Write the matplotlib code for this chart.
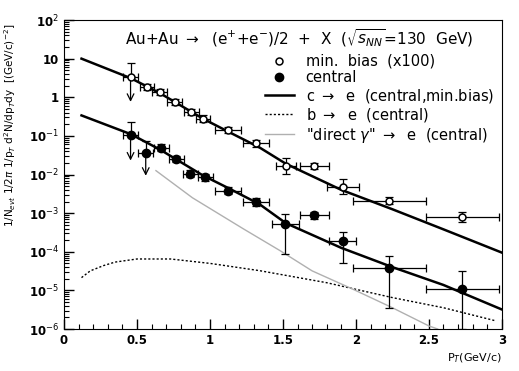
import numpy as np
import matplotlib
matplotlib.use("Agg")
import matplotlib.pyplot as plt
from matplotlib.lines import Line2D
from matplotlib.ticker import FixedLocator, FixedFormatter, LogLocator, MultipleLocator, NullFormatter

plt.rcParams.update({"font.family": "DejaVu Sans", "font.size": 9})

# min. bias (x100), open symbols
mb_x = [0.456, 0.569, 0.656, 0.759, 0.873, 0.952, 1.123, 1.317, 1.522, 1.716, 1.909, 2.228, 2.73]
mb_y = [3.4, 1.86, 1.38, 0.76, 0.42, 0.28, 0.145, 0.065, 0.0162, 0.0162, 0.0047, 0.0021, 0.00081]
mb_lo = [0.76, 1.55, 1.15, 0.63, 0.35, 0.235, 0.12, 0.053, 0.0102, 0.0135, 0.0032, 0.0017, 0.00060]
mb_hi = [7.8, 2.25, 1.65, 0.92, 0.50, 0.34, 0.175, 0.080, 0.026, 0.0195, 0.0078, 0.0026, 0.00110]
mb_xerr = [0.05, 0.05, 0.05, 0.05, 0.05, 0.05, 0.09, 0.09, 0.07, 0.10, 0.11, 0.25, 0.25]
mb_arrow = [True] + [False] * 12

# central, filled symbols
c_x = [0.456, 0.56, 0.668, 0.77, 0.866, 0.968, 1.123, 1.317, 1.517, 1.716, 1.909, 2.228, 2.73]
c_y = [0.107, 0.0355, 0.049, 0.0257, 0.0105, 0.0085, 0.0038, 0.0019, 0.00052, 0.00087, 0.000195, 3.9e-5, 1.07e-5]
c_lo = [0.023, 0.0093, 0.040, 0.021, 0.0085, 0.0069, 0.0031, 0.0015, 8.7e-5, 0.00071, 5.2e-5, 3.5e-6, 1.0e-6]
c_hi = [0.23, 0.076, 0.060, 0.031, 0.013, 0.0104, 0.0047, 0.0024, 0.00095, 0.00106, 0.00032, 7.9e-5, 3.2e-5]
c_xerr = [0.05, 0.05, 0.05, 0.05, 0.05, 0.05, 0.09, 0.09, 0.09, 0.10, 0.09, 0.25, 0.25]
c_arrow = [True, True] + [False] * 11

# c -> e curves
ce_x = [0.12, 0.46, 0.66, 0.95, 1.13, 1.34, 1.52, 1.9, 2.25, 2.6, 3.0]
ce_mb = [10.0, 3.09, 1.26, 0.282, 0.126, 0.050, 0.019, 0.0040, 0.00126, 3.8e-4, 9.5e-5]
ce_c = [0.339, 0.11, 0.0437, 0.00955, 0.00437, 0.0017, 5.5e-4, 1.26e-4, 4.0e-5, 1.38e-5, 3.2e-6]

# b -> e (central)
be_x = [0.12, 0.18, 0.27, 0.35, 0.5, 0.73, 1.0, 1.34, 1.8, 2.25, 2.6, 2.96]
be_y = [2.14e-5, 3.2e-5, 4.37e-5, 5.4e-5, 6.5e-5, 6.5e-5, 5.0e-5, 3.24e-5, 1.58e-5, 6.5e-6, 3.55e-6, 1.62e-6]

# "direct gamma" -> e (central)
dg_x = [0.63, 0.88, 1.23, 1.48, 1.7, 1.98, 2.25, 2.5, 2.56]
dg_y = [0.0126, 0.0025, 3.9e-4, 1.07e-4, 3.2e-5, 1.07e-5, 3.55e-6, 1.2e-6, 1.0e-6]

ytick_vals = [1e-6, 1e-5, 1e-4, 1e-3, 1e-2, 1e-1, 1, 10, 100]
ytick_labels = ["10$^{-6}$", "10$^{-5}$", "10$^{-4}$", "10$^{-3}$", "10$^{-2}$", "10$^{-1}$", "1", "10", "10$^{2}$"]

fig = plt.figure(figsize=(5.19, 3.71), dpi=100)
ax = fig.add_axes([0.1233, 0.1132, 0.8437, 0.8328])

ax.plot(ce_x, ce_mb, "-", color="black", lw=1.8)
ax.plot(ce_x, ce_c, "-", color="black", lw=1.8)
ax.plot(be_x, be_y, color="black", lw=1.0, ls=(0, (1.5, 1.5)))
ax.plot(dg_x, dg_y, "-", color="#b0b0b0", lw=1.0)


def draw_points(x, y, lo, hi, xerr, arrow, filled):
    x = np.array(x); y = np.array(y); lo = np.array(lo); hi = np.array(hi)
    arrow = np.array(arrow)
    ylow = np.where(arrow, 0.0, y - lo)
    ax.errorbar(x, y, xerr=xerr, yerr=[ylow, hi - y], fmt="none", ecolor="black",
                elinewidth=0.9, capsize=3, capthick=0.9)
    for xi, yi, li, a in zip(x, y, lo, arrow):
        if a:
            ax.annotate("", xy=(xi, li), xytext=(xi, yi),
                        arrowprops=dict(arrowstyle="->", color="black", lw=0.9,
                                        mutation_scale=12, shrinkA=0, shrinkB=0))
    if filled:
        ax.plot(x, y, "o", ms=6, color="black", zorder=5)
    else:
        ax.plot(x, y, "o", ms=5, mfc="white", mec="black", mew=1.1, zorder=5)


draw_points(mb_x, mb_y, mb_lo, mb_hi, mb_xerr, mb_arrow, filled=False)
draw_points(c_x, c_y, c_lo, c_hi, c_xerr, c_arrow, filled=True)

ax.set_yscale("log")
ax.set_xlim(0, 3)
ax.set_ylim(1e-6, 100)
ax.yaxis.set_major_locator(FixedLocator(ytick_vals))
ax.yaxis.set_major_formatter(FixedFormatter(ytick_labels))
ax.yaxis.set_minor_locator(LogLocator(base=10, subs=np.arange(2, 10), numticks=20))
ax.yaxis.set_minor_formatter(NullFormatter())
ax.xaxis.set_major_locator(MultipleLocator(0.5))
ax.xaxis.set_minor_locator(MultipleLocator(0.1))
ax.xaxis.set_major_formatter(plt.FuncFormatter(lambda v, p: f"{v:g}"))
ax.tick_params(which="both", direction="in", top=False, right=False, labelsize=8.5)
ax.tick_params(which="major", length=7, width=1.0)
ax.tick_params(which="minor", length=3.5, width=0.8)
for lbl in ax.get_xticklabels() + ax.get_yticklabels():
    lbl.set_fontweight("bold")

ax.set_xlabel("P$_T$(GeV/c)", fontsize=8, loc="right", labelpad=3)
ax.set_ylabel(r"1/N$_{evt}$ 1/2$\pi$ 1/p$_T$ d$^2$N/dp$_T$dy  [(GeV/c)$^{-2}$]", fontsize=7.5)
ax.yaxis.set_label_coords(-0.105, 0.66)

ax.text(0.14, 0.94, r"Au+Au $\rightarrow$  (e$^{+}$+e$^{-}$)/2  +  X  ($\sqrt{s_{NN}}$=130  GeV)",
        transform=ax.transAxes, fontsize=11, va="center", ha="left")

handles = [
    Line2D([], [], ls="none", marker="o", ms=5, mfc="white", mec="black", mew=1.1),
    Line2D([], [], ls="none", marker="o", ms=6, color="black"),
    Line2D([], [], color="black", lw=1.8),
    Line2D([], [], color="black", lw=1.0, ls=(0, (1.5, 1.5))),
    Line2D([], [], color="#b0b0b0", lw=1.0),
]
labels = ["min.  bias  (x100)", "central", r"c $\rightarrow$  e  (central,min.bias)",
          r"b $\rightarrow$  e  (central)", r'"direct $\gamma$" $\rightarrow$  e  (central)']
ax.legend(handles, labels, loc="upper left", bbox_to_anchor=(0.445, 0.91), frameon=False,
          fontsize=10.5, handlelength=2.0, handletextpad=0.8, labelspacing=0.1, borderaxespad=0)

fig.savefig("out.png", dpi=100)
